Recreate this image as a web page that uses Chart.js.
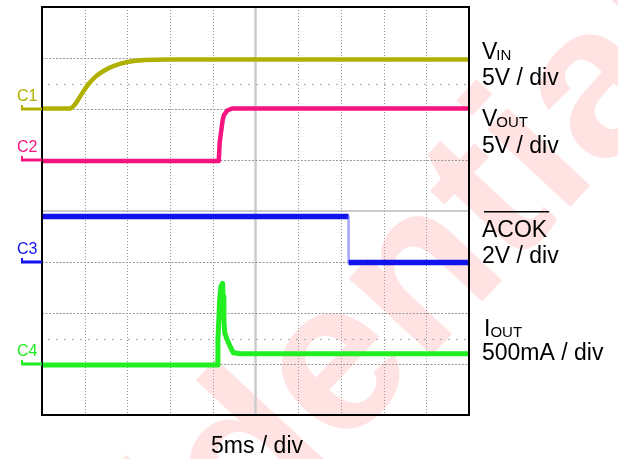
<!DOCTYPE html>
<html>
<head>
<meta charset="utf-8">
<script src="https://cdn.jsdelivr.net/npm/chart.js@4.4.1/dist/chart.umd.min.js"></script>
<style>
body { margin: 0; background: #fff; }
</style>
</head>
<body>
<canvas id="scope" width="618" height="459"></canvas>
<script>
// screen is 10 x 8 divisions, all values below are in divisions
const xDivs = 10;
const yDivs = 8;
const c1X = [0, 0.66, 0.76, 0.86, 0.97, 1.10, 1.25, 1.45, 1.70, 2.00, 2.40, 3.00, 10];
const c1Y = [6.01, 6.01, 6.08, 6.20, 6.35, 6.50, 6.63, 6.75, 6.85, 6.92, 6.96, 6.97, 6.97];
const c2X = [0, 4.14, 4.16, 4.19, 4.23, 4.26, 4.34, 4.45, 10];
const c2Y = [4.98, 4.98, 5.33, 5.53, 5.78, 5.88, 5.97, 6.01, 6.01];
const c3X = [0, 7.18, 7.18, 10];
const c3Y = [3.89, 3.89, 2.99, 2.99];
const c4X = [0, 4.10, 4.12, 4.16, 4.19, 4.23, 4.24, 4.26, 4.28, 4.34, 4.41, 4.48, 4.65, 10];
const c4Y = [0.98, 0.98, 1.47, 2.25, 2.52, 2.58, 2.32, 1.86, 1.61, 1.47, 1.34, 1.22, 1.20, 1.20];
const channelNames = ['C1', 'C2', 'C3', 'C4'];
const channelGround = [6, 5, 3, 1];
const channelColors = ['#b0b000', '#f5137f', '#1212ee', '#22ee22'];
const signalNames = ['V', 'V', 'ACOK', 'I'];
const signalSubs = ['IN', 'OUT', '', 'OUT'];
const signalScales = ['5V / div', '5V / div', '2V / div', '500mA / div'];
const timeScale = '5ms / div';

function pts(xs, ys) {
    return xs.map(function (x, i) { return { x: x, y: ys[i] }; });
}

const watermark = {
    id: 'watermark',
    beforeDraw: function (chart) {
        const ctx = chart.ctx;
        ctx.save();
        ctx.fillStyle = '#fff';
        ctx.fillRect(0, 0, chart.width, chart.height);
        ctx.font = 'bold 215px "Liberation Sans", Arial';
        const word = 'Confidential';
        const before = ctx.measureText('Confid').width + ctx.measureText('e').width / 2;
        ctx.translate(340, 372);
        ctx.rotate(-47 * Math.PI / 180);
        ctx.fillStyle = 'rgba(255, 0, 0, 0.11)';
        ctx.fillText(word, -before, 0.26 * 215);
        ctx.restore();
    }
};

const scopeGrid = {
    id: 'scopeGrid',
    beforeDatasetsDraw: function (chart) {
        const ctx = chart.ctx;
        const a = chart.chartArea;
        const xs = chart.scales.x, ys = chart.scales.y;
        ctx.save();
        // center lines
        ctx.strokeStyle = '#cccccc';
        ctx.lineWidth = 2.5;
        ctx.beginPath();
        ctx.moveTo(xs.getPixelForValue(5), a.top);
        ctx.lineTo(xs.getPixelForValue(5), a.bottom);
        ctx.stroke();
        ctx.lineWidth = 1.5;
        ctx.strokeStyle = '#bbbbbb';
        ctx.beginPath();
        ctx.moveTo(a.left, ys.getPixelForValue(4));
        ctx.lineTo(a.right, ys.getPixelForValue(4));
        ctx.stroke();
        // vertical dotted
        ctx.strokeStyle = '#999999';
        ctx.lineWidth = 1;
        ctx.setLineDash([1, 2]);
        for (let i = 1; i < xDivs; i++) {
            if (i == 5) continue;
            const px = Math.round(xs.getPixelForValue(i)) + 0.5;
            ctx.beginPath();
            ctx.moveTo(px, a.top);
            ctx.lineTo(px, a.bottom);
            ctx.stroke();
        }
        // horizontal dashed
        ctx.setLineDash([2, 1.5]);
        for (let j = 1; j < yDivs; j++) {
            if (j == 4) continue;
            const py = Math.round(ys.getPixelForValue(j)) + 0.5;
            ctx.beginPath();
            ctx.moveTo(a.left, py);
            ctx.lineTo(a.right, py);
            ctx.stroke();
        }
        // sparse half lines
        ctx.strokeStyle = '#aaaaaa';
        ctx.setLineDash([2, 6]);
        [1.5, 6.5].forEach(function (v) {
            const py = Math.round(ys.getPixelForValue(v)) + 0.5;
            ctx.beginPath();
            ctx.moveTo(a.left + 6, py);
            ctx.lineTo(a.right, py);
            ctx.stroke();
        });
        ctx.restore();
    },
    afterDatasetsDraw: function (chart) {
        const ctx = chart.ctx;
        const a = chart.chartArea;
        const ys = chart.scales.y;
        ctx.save();
        ctx.strokeStyle = '#000';
        ctx.lineWidth = 2;
        ctx.strokeRect(a.left, a.top, a.right - a.left, a.bottom - a.top);
        // channel markers on the left
        ctx.font = '16px "Liberation Sans", Arial';
        ctx.textAlign = 'left';
        channelNames.forEach(function (name, i) {
            const py = ys.getPixelForValue(channelGround[i]);
            ctx.fillStyle = channelColors[i];
            ctx.fillText(name, 17, py - 8.5);
            ctx.fillRect(21, py - 1.5, a.left - 21, 3);
            ctx.fillRect(21, py - 4, 2, 3);
        });
        // labels on the right
        ctx.fillStyle = '#000';
        const mainBase = [59, 126, 237, 336];
        const scaleBase = [85, 153, 263, 360];
        const tx = 482;
        signalNames.forEach(function (name, i) {
            ctx.font = '23px "Liberation Sans", Arial';
            ctx.fillText(name, tx + (name == 'I' ? 2 : 0), mainBase[i]);
            const w = ctx.measureText(name).width;
            if (signalSubs[i]) {
                ctx.font = '15px "Liberation Sans", Arial';
                ctx.fillText(signalSubs[i], tx + w + (name == 'I' ? 2 : -1), mainBase[i] + 1);
            } else {
                ctx.fillRect(tx + 2, mainBase[i] - 26, w, 1.5);
            }
            ctx.font = '23px "Liberation Sans", Arial';
            ctx.fillText(signalScales[i], tx, scaleBase[i]);
        });
        ctx.fillText(timeScale, 211, 453);
        ctx.restore();
    }
};

const traceStyle = {
    pointRadius: 0,
    tension: 0,
    fill: false,
    borderJoinStyle: 'round'
};

const chart = new Chart(document.getElementById('scope'), {
    type: 'line',
    data: {
        datasets: [
            Object.assign({ label: 'C1', data: pts(c1X, c1Y), borderColor: channelColors[0], borderWidth: 4.5 }, traceStyle, { cubicInterpolationMode: 'monotone' }),
            Object.assign({ label: 'C2', data: pts(c2X, c2Y), borderColor: channelColors[1], borderWidth: 4.5 }, traceStyle),
            Object.assign({
                label: 'C3', data: pts(c3X, c3Y), borderColor: channelColors[2], borderWidth: 5.5,
                segment: {
                    borderColor: function (ctx) { return ctx.p0.parsed.x === ctx.p1.parsed.x ? 'rgba(90, 90, 255, 0.55)' : undefined; },
                    borderWidth: function (ctx) { return ctx.p0.parsed.x === ctx.p1.parsed.x ? 2.5 : undefined; }
                }
            }, traceStyle),
            Object.assign({ label: 'C4', data: pts(c4X, c4Y), borderColor: channelColors[3], borderWidth: 5 }, traceStyle)
        ]
    },
    options: {
        responsive: false,
        animation: false,
        layout: { padding: { left: 42, right: 149, top: 7, bottom: 44 } },
        plugins: { legend: { display: false }, tooltip: { enabled: false } },
        scales: {
            x: { type: 'linear', min: 0, max: xDivs, display: false },
            y: { type: 'linear', min: 0, max: yDivs, display: false }
        }
    },
    plugins: [watermark, scopeGrid]
});
</script>
</body>
</html>
